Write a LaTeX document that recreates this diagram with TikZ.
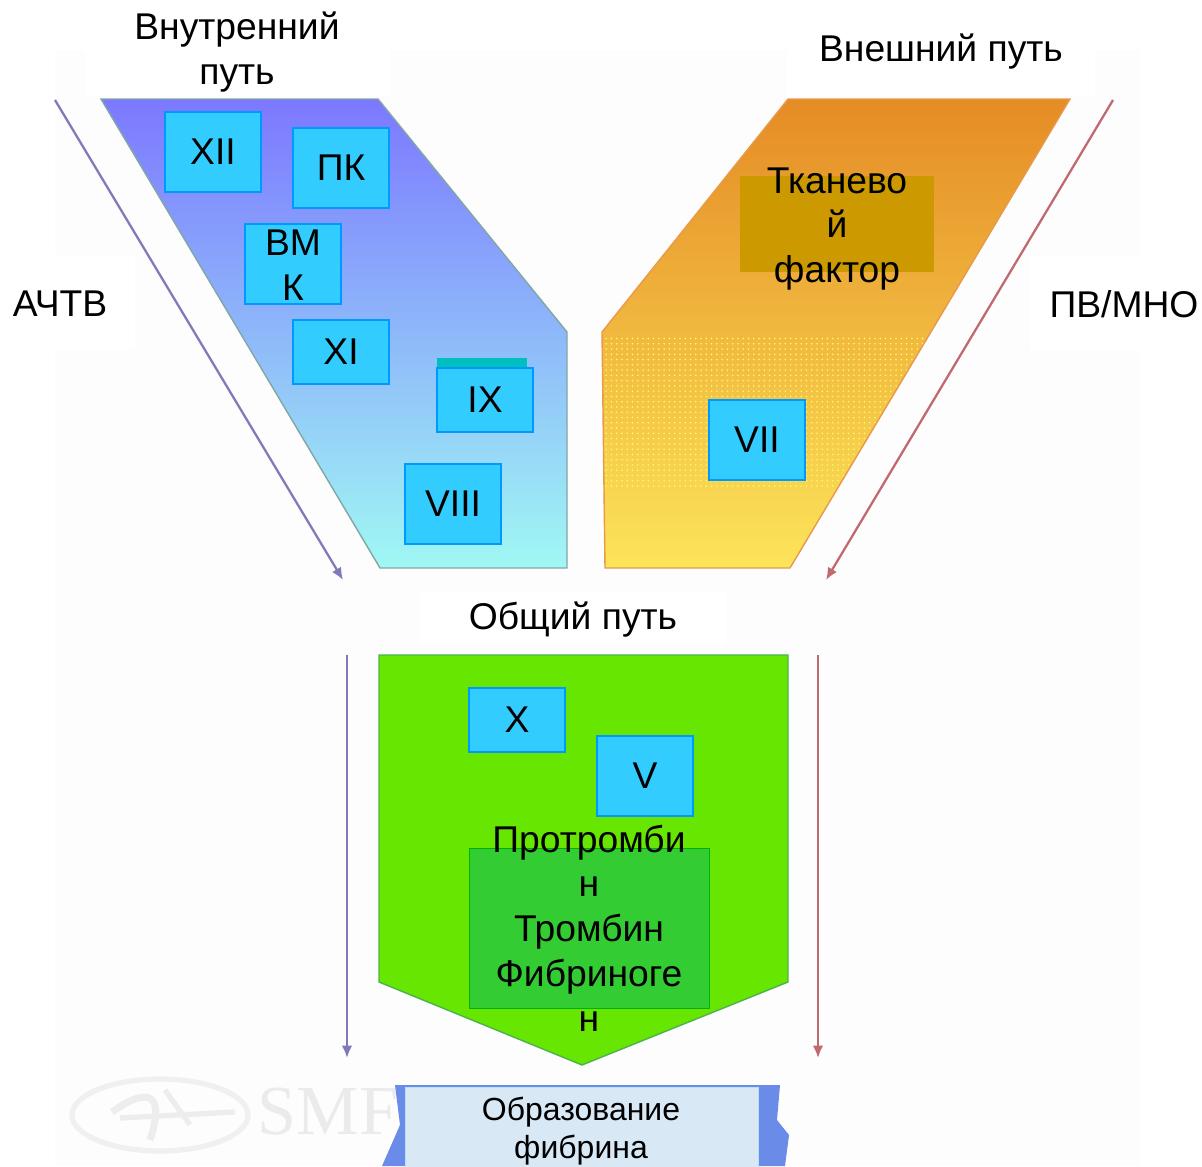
\documentclass[tikz,border=0pt]{standalone}
\usepackage{fontspec}
\setmainfont{Liberation Sans}
\newfontfamily\markfont{Liberation Serif}
\usetikzlibrary{arrows.meta, patterns}

\definecolor{facblue}{HTML}{33CCFF}
\definecolor{facedge}{HTML}{0099FF}
\definecolor{tissuebox}{HTML}{CC9900}
\definecolor{thrombox}{HTML}{33CC33}
\definecolor{pathgreen}{HTML}{66E600}
\definecolor{arrowviolet}{HTML}{7F7AB8}
\definecolor{arrowred}{HTML}{C06A70}
\definecolor{paper}{HTML}{FEFDFE}
\definecolor{intertop}{HTML}{7C78FF}
\definecolor{intermid}{HTML}{90B0EE}
\definecolor{interbot}{HTML}{A0F8F4}
\definecolor{extertop}{HTML}{E58C25}
\definecolor{extermid}{HTML}{EFB030}
\definecolor{exterbot}{HTML}{FCE45A}
\definecolor{fibrinfill}{HTML}{D8E8F5}
\definecolor{fibrinside}{HTML}{6A8CE8}

\tikzset{
	facbox/.style={draw=facedge, fill=facblue, line width=1pt, inner sep=0pt, minimum width=1.92cm, minimum height=1.6cm, font=\fontsize{21.2}{25.5}\selectfont, align=center},
	labeltext/.style={inner sep=0pt, font=\fontsize{21.2}{25.5}\selectfont, align=center},
	patharrow/.style={-{Latex[length=7pt, width=6pt]}, line width=1.3pt},
}

\begin{document}
\begin{tikzpicture}[>=Latex, x=0.02cm, y=-0.02cm]
	\useasboundingbox (0, 0) rectangle (1202, 1166);
	\fill[paper] (55, 50) rectangle (1140, 1166);

	% watermark
	\draw[gray!12, line width=3pt] (160, 1115) ellipse (88 and 36);
	\draw[gray!14, line width=4pt] (112, 1112) .. controls (150, 1085) and (165, 1095) .. (150, 1140);
	\draw[gray!14, line width=3pt] (165, 1090) -- (190, 1125) (120, 1118) -- (235, 1112);
	\node[gray!16, inner sep=0pt, font=\markfont\fontsize{40}{40}\selectfont] (mark) at (328, 1112) {SMF};

	% white behind labels
	\fill[white] (85, 0) rectangle (390, 96);
	\fill[white] (787, 20) rectangle (1095, 96);
	\fill[white] (0, 255) rectangle (135, 350);
	\fill[white] (1030, 255) rectangle (1202, 350);
	\fill[white] (420, 592) rectangle (726, 645);

	% funnels
	\shade[top color=intertop, middle color=intermid, bottom color=interbot, draw=teal!40!gray!70, line width=0.8pt] (101, 99) -- (378, 99) -- (567, 332) -- (567, 568) -- (380, 568) -- cycle;
	\shade[top color=extertop, middle color=extermid, bottom color=exterbot, draw=orange!55!brown!80, line width=0.8pt] (788, 99) -- (1070, 99) -- (790, 568) -- (605, 568) -- (602, 332) -- cycle;
	\begin{scope}
		\clip (603, 335) -- (928, 335) -- (835, 490) -- (604, 490) -- cycle;
		\fill[pattern=dots, pattern color=yellow!65] (600, 335) rectangle (940, 490);
	\end{scope}
	\fill[pathgreen, draw=green!40!gray, line width=0.8pt] (379, 655) -- (788, 655) -- (788, 982) -- (582, 1065) -- (379, 982) -- cycle;

	% fibrin strip
	\fill[fibrinside] (395, 1085) -- (780, 1085) -- (777, 1120) -- (789, 1135) -- (785, 1166) -- (382, 1166) -- (400, 1125) -- cycle;
	\fill[fibrinfill, draw=cyan!30] (405, 1087) rectangle (758, 1170);
	\node[inner sep=0pt, align=center, font=\fontsize{18.2}{22.1}\selectfont] (fibrin) at (581, 1131) {Образование\\фибрина};

	% pathway arrows
	\coordinate (intstart) at (55, 100);
	\coordinate (intend) at (343, 580);
	\coordinate (extstart) at (1113, 100);
	\coordinate (extend) at (826, 580);
	\coordinate (apttstart) at (347, 655);
	\coordinate (apttend) at (347, 1058);
	\coordinate (ptstart) at (818, 655);
	\coordinate (ptend) at (818, 1058);
	\draw[patharrow, arrowviolet] (intstart) -- (intend);
	\draw[patharrow, arrowred] (extstart) -- (extend);
	\draw[patharrow, arrowviolet] (apttstart) -- (apttend);
	\draw[patharrow, arrowred] (ptstart) -- (ptend);

	% factors
	\node[facbox] (xii) at (213, 152) {XII};
	\node[facbox] (pk) at (341, 168) {ПК};
	\node[facbox] (vmk) at (293, 264) {};
	\node[labeltext] (vmktext) at (293, 265) {ВМ\\К};
	\node[facbox, minimum height=1.28cm] (xi) at (341, 352) {XI};
	\fill[teal!50!cyan] (437, 358) rectangle (527, 370);
	\node[facbox, minimum height=1.28cm] (ix) at (485, 400) {IX};
	\node[facbox] (viii) at (453, 504) {VIII};
	\node[facbox] (vii) at (757, 440) {VII};
	\node[facbox, minimum height=1.28cm] (x) at (517, 720) {X};
	\node[facbox] (v) at (645, 776) {V};

	\fill[tissuebox] (740, 176) rectangle (934, 272);
	\node[labeltext] (tissue) at (837, 229) {Тканево\\й\\фактор};

	\fill[thrombox, draw=green!70!black, thin] (469, 848) rectangle (709, 1008);
	\node[labeltext] (thrombin) at (589, 928) {Протромби\\н\\Тромбин\\Фибриноге\\н};

	% titles
	\node[labeltext] (inner) at (237, 52) {Внутренний\\путь};
	\node[labeltext] (outer) at (941, 52) {Внешний путь};
	\node[labeltext] (common) at (573, 620) {Общий путь};
	\node[labeltext] (aptt) at (60, 304) {АЧТВ};
	\node[labeltext] (pt) at (1124, 304) {ПВ/МНО};
\end{tikzpicture}
\end{document}
